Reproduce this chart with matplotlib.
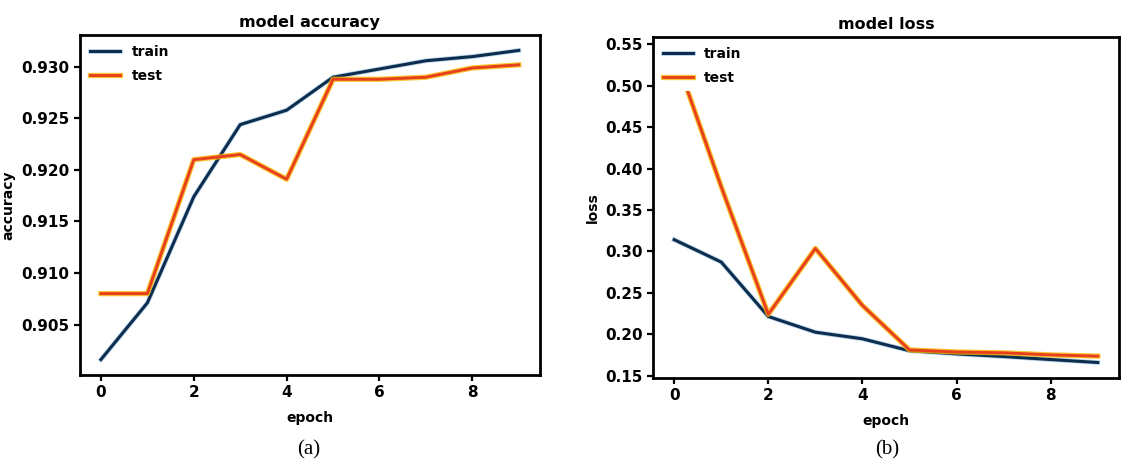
import matplotlib
matplotlib.use("Agg")
import matplotlib.pyplot as plt
import matplotlib.patheffects as pe

# values
epochs = list(range(10))
acc_train = [0.9016, 0.9071, 0.9174, 0.9244, 0.9258, 0.9290, 0.9298, 0.9306, 0.9310, 0.9316]
acc_test = [0.9080, 0.9080, 0.9210, 0.9215, 0.9191, 0.9288, 0.9288, 0.9290, 0.9299, 0.9302]
loss_train = [0.3141, 0.2871, 0.2214, 0.2024, 0.1944, 0.1800, 0.1762, 0.1730, 0.1694, 0.1658]
loss_test = [0.540, 0.378, 0.2240, 0.3035, 0.2347, 0.1810, 0.1785, 0.1775, 0.1750, 0.1735]
acc_ticks = [0.905, 0.910, 0.915, 0.920, 0.925, 0.930]
loss_ticks = [0.15, 0.20, 0.25, 0.30, 0.35, 0.40, 0.45, 0.50, 0.55]

TRAIN = '#0c2d4e'
TEST = '#e8401c'

fig = plt.figure(figsize=(11.21, 4.62), dpi=100)


def panel(rect, train, test, ticks, fmt, title, ylabel, ylab_x):
    ax = fig.add_axes(rect)
    ax.plot(epochs, train, color=TRAIN, lw=2.2, label='train',
            path_effects=[pe.withStroke(linewidth=3.4, foreground='#3f86c4', alpha=0.35)])
    ax.plot(epochs, test, color=TEST, lw=2.1, label='test',
            path_effects=[pe.withStroke(linewidth=3.8, foreground='#f7b800', alpha=0.8)])
    ax.set_xticks([0, 2, 4, 6, 8])
    ax.set_yticks(ticks)
    ax.set_yticklabels([fmt.format(t) for t in ticks])
    for lbl in ax.get_xticklabels() + ax.get_yticklabels():
        lbl.set_fontweight('bold')
        lbl.set_fontsize(11)
    for sp in ax.spines.values():
        sp.set_linewidth(2.0)
    ax.tick_params(width=1.6, length=4)
    ax.set_title(title, fontsize=11.5, fontweight='bold', pad=6)
    ax.set_xlabel('epoch', fontsize=10, fontweight='bold')
    ax.set_ylabel(ylabel, fontsize=10, fontweight='bold')
    ax.xaxis.set_label_coords(0.5, -0.105)
    ax.yaxis.set_label_coords(ylab_x, 0.5)
    leg = ax.legend(loc='upper left', frameon=True, fancybox=False, framealpha=1.0,
                    edgecolor='white', prop={'weight': 'bold', 'size': 10},
                    handlelength=2.2, labelspacing=0.75, borderaxespad=0.3)
    leg.get_frame().set_linewidth(0)
    return ax


panel([0.0714, 0.1883, 0.410, 0.736], acc_train, acc_test, acc_ticks, '{:.3f}',
      'model accuracy', 'accuracy', -0.14)
panel([0.5825, 0.1818, 0.4157, 0.738], loss_train, loss_test, loss_ticks, '{:.2f}',
      'model loss', 'loss', -0.115)

fig.text(309 / 1121, 1 - 450 / 462, '(a)', ha='center', va='center',
         family='Liberation Serif', fontsize=15)
fig.text(887 / 1121, 1 - 450 / 462, '(b)', ha='center', va='center',
         family='Liberation Serif', fontsize=15)

fig.savefig('out.png', dpi=100)
